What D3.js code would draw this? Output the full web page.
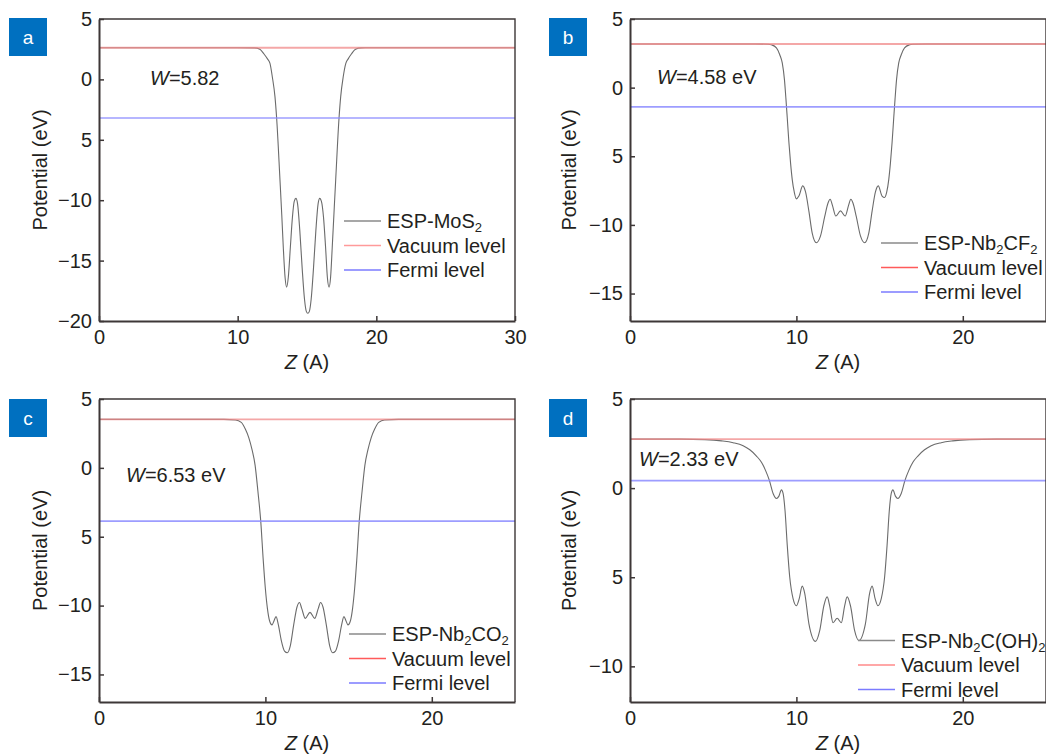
<!DOCTYPE html>
<html>
<head>
<meta charset="utf-8">
<script src="https://cdn.jsdelivr.net/npm/d3@7"></script>
<style>
  html, body { margin: 0; padding: 0; background: #ffffff; }
  svg { display: block; }
</style>
</head>
<body>
<svg id="chart" width="1046" height="755"></svg>
<script>
// Planar-averaged electrostatic potential along Z for four 2D materials.

const panelLetters = ["a", "b", "c", "d"];
const espNames = ["ESP-MoS", "ESP-Nb", "ESP-Nb", "ESP-Nb"];
const workFunctionText = ["5.82", "4.58 eV", "6.53 eV", "2.33 eV"];
const vacuumLevels = [2.62, 3.18, 3.52, 2.75];
const fermiLevels = [-3.20, -1.40, -3.87, 0.42];

const xDomains = [[0, 30], [0, 25], [0, 25], [0, 25]];
const yDomains = [[-20, 5], [-17, 5], [-17, 5], [-12, 5]];
const xTickValues = [[0, 10, 20, 30], [0, 10, 20], [0, 10, 20], [0, 10, 20]];
const yTickValues = [[5, 0, -5, -10, -15, -20], [5, 0, -5, -10, -15], [5, 0, -5, -10, -15], [5, 0, -5, -10]];
const yTickLabels = [["5", "0", "5", "\u221210", "\u221215", "\u221220"],
                     ["5", "0", "5", "\u221210", "\u221215"],
                     ["5", "0", "5", "\u221210", "\u221215"],
                     ["5", "0", "5", "\u221210"]];

// (a) MoS2
const zMoS2 = [0, 10, 11.2, 11.6, 11.9, 12.15, 12.33, 12.5, 12.69, 12.81, 13.05, 13.18, 13.29, 13.42, 13.53, 13.65, 13.8, 13.95, 14.08, 14.2,
  14.32, 14.48, 14.65, 14.82, 14.95, 15.06, 15.17, 15.3, 15.47, 15.64, 15.8, 15.92, 16.04, 16.19, 16.34, 16.47, 16.59, 16.7, 16.82, 16.94,
  17.07, 17.31, 17.43, 17.61, 17.8, 17.97, 18.2, 18.5, 18.9, 20, 30];
const espMoS2 = [2.62, 2.62, 2.61, 2.5, 2.1, 1.7, 1.33, 0.2, -1.43, -3.2, -8.3, -11.2, -13.9, -16.4, -17.2, -16.4, -13.9, -11.4, -10.1, -9.85,
  -10.3, -12.5, -15.6, -18.2, -19.2, -19.36, -19.2, -18.2, -15.6, -12.5, -10.3, -9.85, -10.1, -11.4, -13.9, -16.4, -17.2, -16.4, -13.9, -11.2,
  -8.3, -3.2, -1.43, 0.2, 1.33, 1.7, 2.1, 2.5, 2.61, 2.62, 2.62];

// (b) Nb2CF2
const zNb2CF2 = [0, 7.5, 8.3, 8.5, 8.8, 9.0, 9.15, 9.28, 9.37, 9.45, 9.55, 9.65, 9.75, 9.87, 10.0, 10.15, 10.38, 10.55, 10.75, 10.95,
  11.2, 11.45, 11.7, 11.9, 12.03, 12.17, 12.37, 12.65, 12.93, 13.13, 13.27, 13.4, 13.6, 13.85, 14.1, 14.35, 14.55, 14.75, 14.92, 15.15,
  15.3, 15.43, 15.55, 15.65, 15.75, 15.85, 15.93, 16.02, 16.15, 16.3, 16.5, 16.8, 17.0, 17.8, 25];
const espNb2CF2 = [3.18, 3.18, 3.16, 3.12, 2.9, 2.4, 1.8, 0.6, -0.8, -2.2, -4.0, -5.5, -6.7, -7.6, -8.1, -7.9, -7.16, -7.6, -9.0, -10.6,
  -11.3, -10.8, -9.4, -8.4, -8.13, -8.6, -9.35, -8.98, -9.35, -8.6, -8.13, -8.4, -9.4, -10.8, -11.3, -10.6, -9.0, -7.6, -7.16, -7.9,
  -8.0, -7.6, -6.7, -5.5, -4.0, -2.2, -0.8, 0.6, 1.8, 2.4, 2.9, 3.12, 3.16, 3.18, 3.18];

// (c) Nb2CO2
const zNb2CO2 = [0, 7.5, 8.2, 8.55, 8.8, 9.0, 9.2, 9.38, 9.55, 9.72, 9.87, 10.0, 10.12, 10.25, 10.4, 10.52, 10.64, 10.78, 10.95, 11.15,
  11.32, 11.5, 11.7, 11.9, 12.05, 12.18, 12.4, 12.68, 12.96, 13.18, 13.31, 13.46, 13.66, 13.86, 14.04, 14.21, 14.41, 14.58, 14.72, 14.84,
  14.96, 15.11, 15.24, 15.36, 15.49, 15.64, 15.81, 15.98, 16.16, 16.36, 16.56, 16.81, 17.16, 18, 25];
const espNb2CO2 = [3.52, 3.52, 3.48, 3.3, 2.8, 2.2, 1.3, 0.2, -1.7, -3.87, -6.7, -8.8, -10.2, -11.1, -11.4, -11.1, -10.8, -11.4, -12.5, -13.3,
  -13.42, -12.9, -11.4, -10.1, -9.78, -10.2, -10.93, -10.49, -10.93, -10.2, -9.78, -10.1, -11.4, -12.9, -13.42, -13.3, -12.5, -11.4, -10.8, -11.1,
  -11.4, -11.1, -10.2, -8.8, -6.7, -3.87, -1.7, 0.2, 1.3, 2.2, 2.8, 3.3, 3.48, 3.52, 3.52];

// (d) Nb2C(OH)2
const zNb2COH2 = [0, 3.0, 4.5, 5.5, 6.2, 6.8, 7.2, 7.6, 7.9, 8.15, 8.38, 8.6, 8.8, 8.95, 9.1, 9.2, 9.32, 9.45, 9.6, 9.8,
  10.0, 10.17, 10.35, 10.5, 10.75, 11.15, 11.4, 11.65, 11.85, 12.0, 12.2, 12.45, 12.7, 12.9, 13.05, 13.25, 13.5, 13.75, 14.15, 14.4,
  14.55, 14.73, 14.9, 15.1, 15.3, 15.45, 15.58, 15.7, 15.8, 15.95, 16.1, 16.3, 16.52, 16.75, 17.0, 17.3, 17.7, 18.1, 18.7, 19.4,
  20.4, 22, 25];
const espNb2COH2 = [2.75, 2.75, 2.72, 2.65, 2.55, 2.38, 2.15, 1.8, 1.45, 0.98, 0.42, -0.3, -0.58, -0.45, -0.1, -0.3, -1.3, -3.2, -5.0, -6.2,
  -6.6, -6.2, -5.5, -5.9, -7.6, -8.6, -8.0, -6.6, -6.1, -6.6, -7.55, -7.3, -7.55, -6.6, -6.1, -6.6, -8.0, -8.55, -7.6, -5.9,
  -5.5, -6.2, -6.6, -6.2, -5.0, -3.2, -1.3, -0.3, -0.1, -0.45, -0.58, -0.3, 0.42, 0.98, 1.45, 1.8, 2.15, 2.38, 2.55, 2.65,
  2.72, 2.75, 2.75];

const zSeries = [zMoS2, zNb2CF2, zNb2CO2, zNb2COH2];
const espSeries = [espMoS2, espNb2CF2, espNb2CO2, espNb2COH2];

// Plot rectangles and label placements for the 2x2 grid
const frames = [
  { left: 99,  right: 515,  top: 19,  bottom: 321 },
  { left: 630, right: 1046, top: 19,  bottom: 321 },
  { left: 99,  right: 515,  top: 399, bottom: 702 },
  { left: 630, right: 1046, top: 399, bottom: 702 }
];
const letterBoxes = [[9, 18], [549, 18], [9, 399], [549, 399]];
const wLabelPos = [[150, 85], [657, 84], [126, 482], [639, 466]];
const legendPos = [[344, 221], [881, 243], [349, 634], [858, 640.5]];
const yTitleX = [40, 569, 40, 569];
const legendVacuumColor = ["#ff9a9a", "#ff5a5a", "#ff5a5a", "#ff8a8a"];

const FONT = "'Liberation Sans', Arial, sans-serif";
const TEXT = "#231f20";
const AXIS = "#3d3737";

const svg = d3.select("#chart");
svg.append("rect").attr("width", 1046).attr("height", 755).attr("fill", "#ffffff");

frames.forEach((f, i) => {
  const x = d3.scaleLinear().domain(xDomains[i]).range([f.left, f.right]);
  const y = d3.scaleLinear().domain(yDomains[i]).range([f.bottom, f.top]);
  const g = svg.append("g");

  // ESP curve
  const pts = zSeries[i].map((z, k) => [z, espSeries[i][k]]);
  const line = d3.line().x(d => x(d[0])).y(d => y(d[1])).curve(d3.curveMonotoneX);
  g.append("path").datum(pts).attr("d", line)
    .attr("fill", "none").attr("stroke", "#6b6b6b").attr("stroke-width", 1.1);

  // Vacuum and Fermi levels
  g.append("line").attr("x1", x(xDomains[i][0])).attr("x2", x(xDomains[i][1]))
    .attr("y1", y(vacuumLevels[i])).attr("y2", y(vacuumLevels[i]))
    .attr("stroke", "#f08a8a").attr("stroke-opacity", 0.75).attr("stroke-width", 1.8);
  g.append("line").attr("x1", x(xDomains[i][0])).attr("x2", x(xDomains[i][1]))
    .attr("y1", y(fermiLevels[i])).attr("y2", y(fermiLevels[i]))
    .attr("stroke", "#8c8cff").attr("stroke-opacity", 0.85).attr("stroke-width", 1.6);

  // Frame: top and right edges
  g.append("path")
    .attr("d", `M${f.left},${f.top}H${f.right}V${f.bottom}`)
    .attr("fill", "none").attr("stroke", AXIS).attr("stroke-width", 1.4);

  // Axes with inward ticks
  const yAxis = d3.axisLeft(y).tickValues(yTickValues[i])
    .tickFormat((d, k) => yTickLabels[i][k])
    .tickSizeInner(-5).tickSizeOuter(0).tickPadding(7);
  const ya = g.append("g").attr("transform", `translate(${f.left},0)`).call(yAxis);

  const xAxis = d3.axisBottom(x).tickValues(xTickValues[i])
    .tickFormat(d3.format("d"))
    .tickSizeInner(-5).tickSizeOuter(0).tickPadding(9);
  const xa = g.append("g").attr("transform", `translate(0,${f.bottom})`).call(xAxis);

  [ya, xa].forEach(a => {
    a.attr("font-family", FONT).attr("font-size", 20);
    a.select(".domain").attr("stroke", AXIS).attr("stroke-width", 2);
    a.selectAll(".tick line").attr("stroke", AXIS).attr("stroke-width", 1.5);
    a.selectAll(".tick text").attr("fill", TEXT);
  });

  // Axis titles
  const cx = (f.left + f.right) / 2, cy = (f.top + f.bottom) / 2;
  g.append("text")
    .attr("transform", `translate(${yTitleX[i]},${cy}) rotate(-90)`)
    .attr("text-anchor", "middle").attr("dy", "0.35em")
    .attr("font-family", FONT).attr("font-size", 20).attr("fill", TEXT)
    .text("Potential (eV)");
  const xt = g.append("text")
    .attr("x", cx).attr("y", f.bottom + 48)
    .attr("text-anchor", "middle")
    .attr("font-family", FONT).attr("font-size", 20).attr("fill", TEXT);
  xt.append("tspan").attr("font-style", "italic").text("Z");
  xt.append("tspan").text(" (A)");

  // Work function annotation
  const wt = g.append("text")
    .attr("x", wLabelPos[i][0]).attr("y", wLabelPos[i][1])
    .attr("font-family", FONT).attr("font-size", 20).attr("fill", TEXT);
  wt.append("tspan").attr("font-style", "italic").text("W");
  wt.append("tspan").text("=" + workFunctionText[i]);

  // Legend
  const [lx, ly] = legendPos[i];
  const rowGap = 24.5;
  const entries = [
    { color: "#8a8a8a", kind: "esp" },
    { color: legendVacuumColor[i], label: "Vacuum level" },
    { color: "#7b7bff", label: "Fermi level" }
  ];
  entries.forEach((e, k) => {
    const yy = ly + k * rowGap;
    g.append("line").attr("x1", lx).attr("x2", lx + 37).attr("y1", yy).attr("y2", yy)
      .attr("stroke", e.color).attr("stroke-width", 1.6);
    const t = g.append("text").attr("x", lx + 43).attr("y", yy + 7)
      .attr("font-family", FONT).attr("font-size", 20).attr("fill", TEXT);
    if (e.kind === "esp") {
      const sub = s => t.append("tspan").attr("font-size", 13).attr("dy", 4).text(s);
      const up = s => t.append("tspan").attr("dy", -4).text(s);
      t.append("tspan").text(espNames[i]);
      if (i === 0) { sub("2"); }
      else if (i === 1) { sub("2"); up("CF"); sub("2"); }
      else if (i === 2) { sub("2"); up("CO"); sub("2"); }
      else { sub("2"); up("C(OH)"); sub("2"); }
    } else {
      t.text(e.label);
    }
  });

  // Panel letter tag
  const [bx, by] = letterBoxes[i];
  g.append("rect").attr("x", bx).attr("y", by).attr("width", 38).attr("height", 38)
    .attr("fill", "#0070c0");
  g.append("text").attr("x", bx + 19).attr("y", by + 19).attr("dy", "0.35em")
    .attr("text-anchor", "middle").attr("font-family", FONT).attr("font-size", 19)
    .attr("fill", "#ffffff").text(panelLetters[i]);
});
</script>
</body>
</html>
